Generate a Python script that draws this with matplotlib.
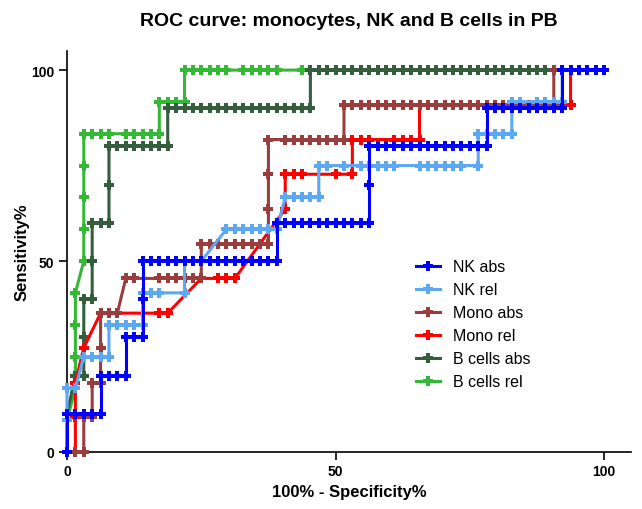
import matplotlib
matplotlib.use("Agg")
import matplotlib.pyplot as plt

# ---------------- data ----------------
N_CONTROLS = 64  # x positions are given as counts of control samples

TITLE = "ROC curve: monocytes, NK and B cells in PB"
X_LABEL = "100% - Specificity%"
Y_LABEL = "Sensitivity%"
X_TICKS = [0, 50, 100]
Y_TICKS = [0, 50, 100]

SERIES_NAMES = ["NK abs", "NK rel", "Mono abs", "Mono rel", "B cells abs", "B cells rel"]
SERIES_COLORS = ["#0000FF", "#5CA8F2", "#993D3D", "#FF0000", "#355E3F", "#35B835"]

# each series: list of (sensitivity %, [control counts at that sensitivity])
NK_ABS = [
    (0, [0]),
    (10, [0, 1, 2, 3, 4]),
    (20, [4, 5, 6, 7]),
    (30, [7, 8, 9]),
    (40, [9]),
    (50, [9, 10, 11, 12, 13, 14, 15, 16, 17, 18, 19, 20, 21, 22, 23, 24, 25]),
    (60, [25, 26, 27, 28, 29, 30, 31, 32, 33, 34, 35, 36]),
    (70, [36]),
    (80, [36, 37, 38, 39, 40, 41, 42, 43, 44, 45, 46, 47, 48, 49, 50]),
    (90, [50, 51, 52, 53, 54, 55, 56, 57, 58, 59]),
    (100, [59, 60, 61, 62, 63, 64]),
]
NK_REL = [
    (0, [0]),
    (8.33, [0]),
    (16.67, [0, 1]),
    (25.0, [2, 3, 4, 5]),
    (33.33, [5, 6, 7, 8, 9]),
    (41.67, [9, 10, 11, 14]),
    (50.0, [14, 15, 16]),
    (58.33, [19, 20, 21, 22, 23, 24, 25]),
    (66.67, [26, 27, 28, 29, 30]),
    (75.0, [30, 31, 33, 35, 36, 37, 38, 39, 42, 43, 44, 45, 46, 47, 49]),
    (83.33, [49, 50, 51, 52, 53]),
    (91.67, [53, 54, 56, 57, 58, 59]),
    (100, [59, 60, 61, 62, 63, 64]),
]
MONO_ABS = [
    (0, [1, 2]),
    (9.09, [2, 3]),
    (18.18, [3, 4]),
    (27.27, [4]),
    (36.36, [4, 5, 6]),
    (45.45, [7, 8, 11, 12, 13, 14, 15, 16]),
    (54.55, [16, 17, 18, 19, 20, 21, 22, 23, 24]),
    (63.64, [24]),
    (72.73, [24]),
    (81.82, [24, 26, 27, 28, 29, 30, 31, 32, 33]),
    (90.91, [33, 34, 35, 36, 37, 38, 39, 40, 41, 42, 43, 44, 45, 46, 47, 48, 49,
             50, 51, 52, 53, 54, 55, 56, 57, 58]),
    (100, [58, 59, 60, 61, 62, 63, 64]),
]
MONO_REL = [
    (0, [1]),
    (9.09, [1]),
    (18.18, [1]),
    (27.27, [2]),
    (36.36, [4, 11, 12]),
    (45.45, [16, 18, 19, 20]),
    (63.64, [26]),
    (72.73, [26, 27, 28, 32, 34]),
    (81.82, [34, 35, 36, 39, 40, 41, 42]),
    (90.91, [42, 59, 60]),
    (100, [60, 61, 62, 63, 64]),
]
B_ABS = [
    (0, [0]),
    (10, [0]),
    (20, [1, 2]),
    (30, [2]),
    (40, [2, 3]),
    (50, [3]),
    (60, [3, 4, 5]),
    (70, [5]),
    (80, [5, 6, 7, 8, 9, 10, 11, 12]),
    (90, [12, 13, 14, 15, 16, 17, 18, 19, 20, 21, 22, 23, 24, 25, 26, 27, 28, 29]),
    (100, [29, 30, 31, 32, 33, 34, 35, 36, 37, 38, 39, 40, 41, 42, 43, 44, 45, 46,
           47, 48, 49, 50, 51, 52, 53, 54, 55, 56, 57, 58]),
]
B_REL = [
    (0, [0]),
    (8.33, [0]),
    (16.67, [1]),
    (25.0, [1]),
    (33.33, [1]),
    (41.67, [1]),
    (50.0, [2]),
    (58.33, [2]),
    (66.67, [2]),
    (75.0, [2]),
    (83.33, [2, 3, 4, 5, 7, 8, 9, 10, 11]),
    (91.67, [11, 12, 13, 14]),
    (100, [14, 15, 16, 17, 18, 19, 21, 22, 23, 24, 25, 28, 29, 30, 32, 34, 36, 38,
           40, 42, 44, 46, 48, 50, 52, 54, 56, 58]),
]
SERIES = [NK_ABS, NK_REL, MONO_ABS, MONO_REL, B_ABS, B_REL]


def to_xy(runs):
    xs, ys = [], []
    for sens, counts in runs:
        for c in counts:
            xs.append(c * 100.0 / N_CONTROLS)
            ys.append(sens)
    return xs, ys


# ---------------- figure ----------------
plt.rcParams["font.family"] = ["Liberation Sans", "DejaVu Sans"]

fig = plt.figure(figsize=(6.42, 5.10), dpi=100)
W, H = 642, 510
left_px, right_px, top_px, bottom_px = 67, 631, 52, 453
ax = fig.add_axes([left_px / W, 1 - bottom_px / H,
                   (right_px - left_px) / W, (bottom_px - top_px) / H])

n = len(SERIES)
for i, (runs, name, col) in enumerate(zip(SERIES, SERIES_NAMES, SERIES_COLORS)):
    xs, ys = to_xy(runs)
    ax.plot(xs, ys, color=col, lw=2.2, marker="P", ms=6.5, mew=0,
            label=name, clip_on=False, zorder=10 + (n - i))

ax.set_xlim(0, 105)
ax.set_ylim(0, 105)
ax.set_xticks(X_TICKS)
ax.set_yticks(Y_TICKS)
ax.set_xticklabels([str(t) for t in X_TICKS], fontweight="bold", fontsize=10)
ax.set_yticklabels([str(t) for t in Y_TICKS], fontweight="bold", fontsize=10)
for s in ["top", "right"]:
    ax.spines[s].set_visible(False)
for s in ["left", "bottom"]:
    ax.spines[s].set_linewidth(1.2)
    ax.spines[s].set_color("black")
ax.tick_params(axis="both", direction="out", length=6, width=1.2, pad=3, colors="black")

ax.set_xlabel(X_LABEL, fontweight="bold", fontsize=12, labelpad=4)
ax.set_ylabel(Y_LABEL, fontweight="bold", fontsize=12, labelpad=1)
fig.text((left_px + right_px) / 2 / W, 1 - 22 / H, TITLE, ha="center", va="center",
         fontweight="bold", fontsize=14)

leg = ax.legend(loc="upper left", bbox_to_anchor=((410 - left_px) / (right_px - left_px),
                                                   (bottom_px - 254) / (bottom_px - top_px)),
                frameon=False, fontsize=11.5, handlelength=1.45, labelspacing=0.5,
                handletextpad=0.85, borderaxespad=0)

fig.savefig("out.png", dpi=100)
